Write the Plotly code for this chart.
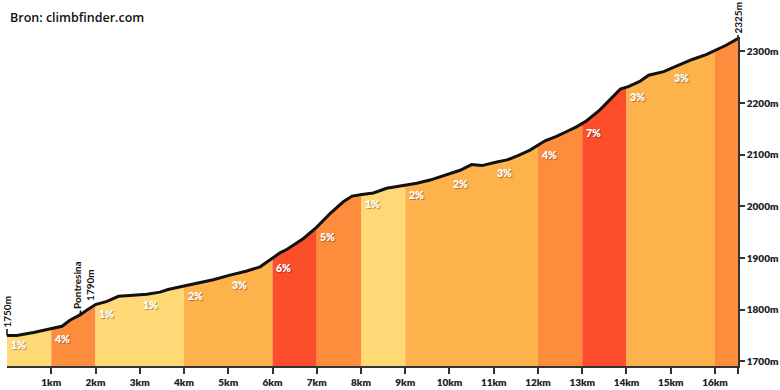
import numpy as np
import plotly.graph_objects as go

# ---- data ----
dist_km = [0, 0.22, 0.6, 1.0, 1.24, 1.43, 1.65, 1.8, 2.0, 2.26, 2.52, 2.85, 3.16, 3.46, 3.64,
           4.0, 4.29, 4.66, 5.04, 5.42, 5.72, 5.87, 6.0, 6.17, 6.33, 6.7, 7.0, 7.3, 7.6, 7.8,
           8.02, 8.28, 8.58, 8.96, 9.26, 9.56, 9.94, 10.24, 10.5, 10.73, 11.07, 11.3, 11.56,
           11.82, 12.16, 12.43, 12.65, 12.87, 13.1, 13.4, 13.7, 13.86, 14.04, 14.3, 14.5,
           14.84, 15.14, 15.5, 15.8, 16.0, 16.25, 16.52]
elev_m = [1750, 1750, 1756, 1763, 1768, 1780, 1790, 1799, 1810, 1816, 1826, 1828, 1830, 1834, 1839,
          1846, 1851, 1858, 1867, 1875, 1883, 1892, 1900, 1910, 1917, 1938, 1960, 1986, 2009, 2020,
          2023, 2026, 2035, 2040, 2045, 2051, 2061, 2070, 2081, 2079, 2086, 2090, 2099,
          2109, 2127, 2136, 2145, 2154, 2166, 2187, 2213, 2227, 2232, 2242, 2254,
          2261, 2272, 2285, 2294, 2302, 2312, 2325]

segment_grades = [1, 4, 1, 1, 2, 3, 6, 5, 1, 2, 2, 3, 4, 7, 3, 3, 4]
segment_labels = ["1%", "4%", "1%", "1%", "2%", "3%", "6%", "5%", "1%", "2%", "2%", "3%", "4%",
                  "7%", "3%", "3%", ""]

km_ticks = list(range(1, 17))
km_tick_text = [f"{k}km" for k in km_ticks]
elev_ticks = [1700, 1800, 1900, 2000, 2100, 2200, 2300]
elev_tick_text = [f"{v}m" for v in elev_ticks]

start_label = "1750m"
poi_name = "Pontresina"
poi_elev = 1790
end_label = "2325m"
source_text = "Bron: climbfinder.com"


def grade_color(g):
    if g <= 1:
        return "#FED976"
    if g <= 3:
        return "#FEB24C"
    if g <= 5:
        return "#FD8D3C"
    return "#FC4E2A"


d = np.array(dist_km, dtype=float)
e = np.array(elev_m, dtype=float)
total = d[-1]

fig = go.Figure()

# merge consecutive segments of the same colour into one fill
runs = []
for k, g in enumerate(segment_grades):
    c = grade_color(g)
    if runs and runs[-1][2] == c:
        runs[-1][1] = k + 1
    else:
        runs.append([k, k + 1, c])

for s, t, c in runs:
    x0, x1 = float(s), min(float(t), total)
    inner = (d > x0) & (d < x1)
    xs = np.concatenate([[x0], d[inner], [x1]])
    ys = np.interp(xs, d, e)
    fig.add_trace(go.Scatter(x=xs, y=ys, mode="lines", line=dict(width=0.6, color=c),
                             fill="tozeroy", fillcolor=c,
                             hoverinfo="skip", showlegend=False))

fig.add_trace(go.Scatter(x=d, y=e, mode="lines",
                         line=dict(color="#111111", width=3),
                         hoverinfo="skip", showlegend=False))

# grade labels
for k, lab in enumerate(segment_labels):
    if not lab:
        continue
    ystart = float(np.interp(k, d, e))
    fig.add_annotation(x=k + 0.25, y=ystart - 19, text=lab, showarrow=False,
                       font=dict(family="Lato", size=10.5, color="white", weight=800,
                                 shadow="1px 1px 1px rgba(0,0,0,0.35)"),
                       xanchor="center", yanchor="middle")

ann_font = dict(family="Lato", size=10, color="#111111", weight=700)
# start label
fig.add_annotation(x=d[0], y=e[0], text=start_label, textangle=-90, showarrow=True,
                   arrowhead=0, arrowwidth=1.5, arrowcolor="#111111", ax=0, ay=-24,
                   font=ann_font)
# POI label
poi_km = float(np.interp(poi_elev, e, d))
fig.add_annotation(x=poi_km, y=poi_elev, text=f"{poi_name}<br>{poi_elev}m", textangle=-90,
                   showarrow=True, arrowhead=0, arrowwidth=1.5, arrowcolor="#111111",
                   ax=4, ay=-30, font=ann_font)
# end label
fig.add_annotation(x=d[-1], y=e[-1], text=end_label, textangle=-90, showarrow=True,
                   arrowhead=0, arrowwidth=1.5, arrowcolor="#111111", ax=0, ay=-21,
                   font=ann_font)

tick_font = dict(family="Lato", size=10, color="#222222", weight=800)

fig.update_layout(
    width=780, height=390,
    margin=dict(l=7, r=42, t=37, b=24),
    paper_bgcolor="white", plot_bgcolor="white",
    showlegend=False,
    title=dict(text=source_text, x=10 / 780, xref="container", xanchor="left",
               y=1 - 18 / 390, yref="container", yanchor="middle",
               font=dict(family="Open Sans", size=12.5, color="#111111", weight=600)),
    xaxis=dict(range=[0, total], tickvals=km_ticks + [total], ticktext=km_tick_text + [""],
               showgrid=False, zeroline=False, showline=True, linecolor="#333333",
               linewidth=1.5, ticks="outside", ticklen=6, tickwidth=1.5, tickcolor="#333333",
               tickfont=tick_font, automargin=False),
    yaxis=dict(range=[1691, 2328], side="right", tickvals=elev_ticks, ticktext=elev_tick_text,
               showgrid=False, zeroline=False, showline=True, linecolor="#333333",
               linewidth=1.5, ticks="outside", ticklen=5, tickwidth=1.5, tickcolor="#333333",
               tickfont=tick_font, automargin=False),
)

fig.write_html("out.html", config={"displayModeBar": False},
               post_script="document.body.style.margin='0';document.body.style.overflow='hidden';")
